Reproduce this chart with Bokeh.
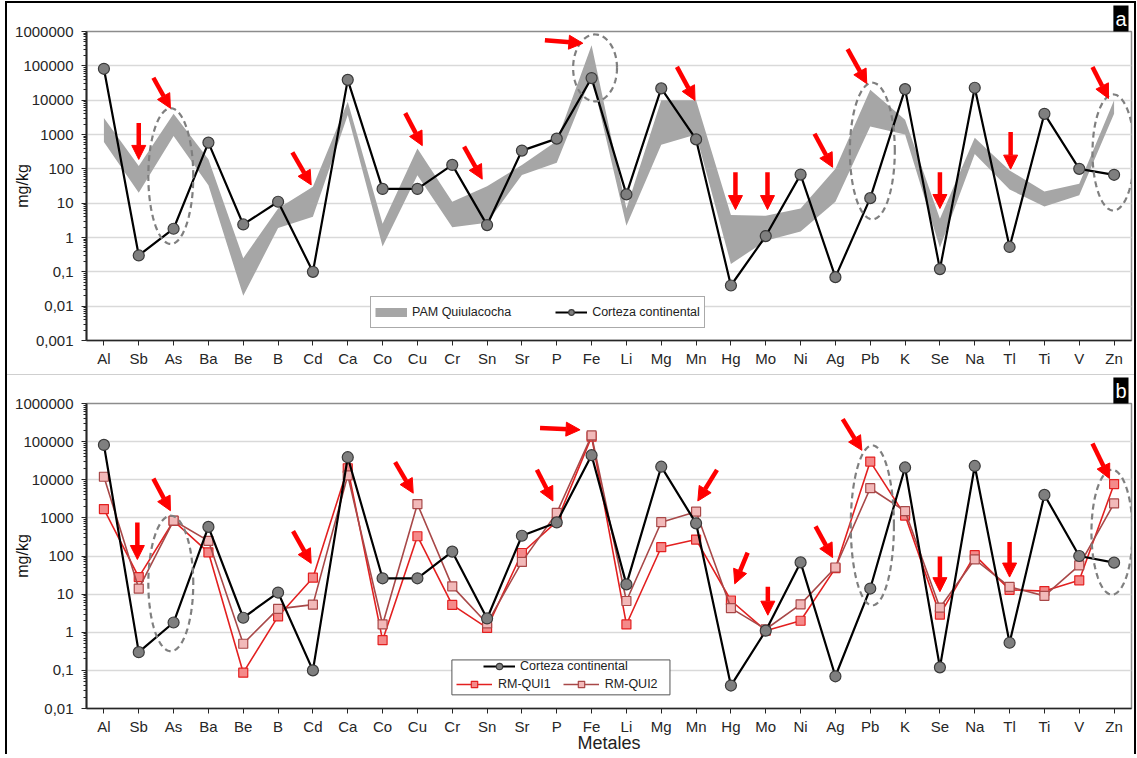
import numpy as np
from bokeh.plotting import figure
from bokeh.models import (Range1d, FixedTicker, Arrow, NormalHead, Legend,
                          LegendItem, Title)
from bokeh.layouts import column
from bokeh.embed import file_html
from bokeh.resources import INLINE

# ---------------- data ----------------
metals = ["Al", "Sb", "As", "Ba", "Be", "B", "Cd", "Ca", "Co", "Cu", "Cr", "Sn",
          "Sr", "P", "Fe", "Li", "Mg", "Mn", "Hg", "Mo", "Ni", "Ag", "Pb", "K",
          "Se", "Na", "Tl", "Ti", "V", "Zn"]

corteza = [82000, 0.3, 1.8, 580, 2.4, 11, 0.1, 39000, 26, 26, 130, 2.3, 340,
           760, 44000, 18, 22000, 720, 0.04, 1.1, 68, 0.07, 14, 21000, 0.12,
           23000, 0.53, 4000, 100, 67]

pam_min = [600, 20, 900, 33, 0.02, 1.9, 4, 3700, 0.55, 65, 2, 2.7, 66, 150,
           50000, 2.2, 500, 1000, 0.17, 0.8, 1.5, 11, 1700, 1000, 0.5, 270, 25,
           8, 17, 4000]
pam_max = [3000, 120, 4000, 190, 0.25, 7, 30, 9000, 2.5, 390, 11, 31, 129, 650,
           400000, 7, 10000, 10000, 4.5, 4.3, 7, 100, 20000, 2700, 3.5, 800, 90,
           22, 37, 10000]

rm_qui1 = [1700, 28, 830, 125, 0.087, 2.6, 27, 20000, 0.62, 330, 5.2, 1.3, 120,
           800, 135000, 1.6, 170, 270, 6.8, 1.1, 2.0, 48, 30000, 1150, 2.9, 105,
           13, 12, 23, 7700]
rm_qui2 = [12000, 14, 850, 250, 0.5, 4.1, 5.3, 13000, 1.6, 2300, 16, 1.7, 70,
           1350, 145000, 6.6, 770, 1450, 4.3, 1.2, 5.4, 50, 6000, 1500, 4.4, 82,
           15.5, 9, 57, 2400]

y_ticks_a = [0.001, 0.01, 0.1, 1.0, 10.0, 100.0, 1000.0, 10000.0, 100000.0, 1000000.0]
y_labels_a = ["0,001", "0,01", "0,1", "1", "10", "100", "1000", "10000", "100000", "1000000"]
y_ticks_b = y_ticks_a[1:]
y_labels_b = y_labels_a[1:]

# annotations: (category, dx_start, value_start, dx_end, value_end)
arrows_a = [("Sb", 0.0, 2160, 0.0, 188), ("As", -0.58, 45000, -0.09, 5800),
            ("Cd", -0.59, 300, -0.05, 34), ("Cu", -0.35, 4190, 0.14, 474),
            ("Sn", -0.66, 445, -0.14, 50), ("Fe", -1.34, 552000, -0.25, 453000),
            ("Mn", -0.55, 93000, -0.03, 9860), ("Hg", 0.13, 80, 0.13, 6.5),
            ("Mo", 0.05, 80, 0.05, 6.5), ("Ag", -0.6, 1050, -0.08, 111),
            ("Pb", -0.65, 305000, -0.1, 30300), ("Se", 0.0, 80, 0.0, 7),
            ("Tl", 0.03, 1190, 0.03, 98), ("Zn", -0.62, 93000, -0.16, 11200)]
arrows_b = [("Sb", -0.04, 760, -0.04, 81), ("As", -0.58, 10700, -0.09, 1540),
            ("Cd", -0.57, 447, -0.05, 64), ("Cu", -0.64, 29200, -0.12, 4440),
            ("P", -0.57, 18200, -0.11, 2770), ("Fe", -1.48, 229000, -0.33, 204000),
            ("Mn", 0.6, 18200, 0.05, 2770), ("Hg", 0.48, 122, 0.11, 18.6),
            ("Mo", 0.06, 15.6, 0.06, 2.8), ("Ag", -0.57, 600, -0.08, 91),
            ("Pb", -0.79, 390000, -0.24, 59200), ("Se", 0.0, 97, 0.0, 11.6),
            ("Tl", 0.0, 233, 0.0, 28), ("Zn", -0.62, 89000, -0.13, 10700)]

# dashed ellipses: (category, dx, log10 centre, half-width, half-height in decades)
ellipses_a = [("As", -0.08, 1.788, 0.645, 1.977), ("Fe", 0.1, 4.94, 0.63, 0.974),
              ("Pb", 0.06, 2.519, 0.645, 1.99), ("Zn", -0.02, 2.476, 0.6, 1.69)]
ellipses_b = [("As", -0.08, 1.28, 0.645, 1.777), ("Pb", 0.06, 2.803, 0.62, 2.097),
              ("Zn", -0.06, 2.624, 0.59, 1.637)]

FONT = "Liberation Sans"
RED = "#ff0000"
W = 1127
x = list(range(len(metals)))


def make_fig(height, y_lo, ticks, labels, top, bottom):
    p = figure(width=W, height=height, x_range=Range1d(-0.5, len(metals) - 0.5),
               y_range=Range1d(y_lo, 1e6), y_axis_type="log", title=None,
               output_backend="svg", toolbar_location=None,
               min_border_left=79, min_border_right=3,
               min_border_top=top, min_border_bottom=bottom)
    p.outline_line_color = "#8c8c8c"
    p.outline_line_width = 1.5
    p.xgrid.visible = False
    p.ygrid.grid_line_color = "#d9d9d9"
    p.ygrid.grid_line_width = 1.5

    xa = p.xaxis[0]
    xa.ticker = FixedTicker(ticks=x)
    xa.major_label_overrides = {i: m for i, m in enumerate(metals)}
    xa.minor_tick_line_color = None
    xa.major_tick_in = 0
    xa.major_tick_out = 5
    xa.major_label_standoff = 4
    xa.axis_line_color = "#262626"
    xa.axis_line_width = 1.5
    xa.major_tick_line_color = "#262626"
    xa.major_label_text_font = FONT
    xa.major_label_text_font_size = "15px"
    xa.major_label_text_color = "#262626"

    ya = p.yaxis[0]
    minor = [m * 10.0 ** k for k in range(-3, 6) for m in range(2, 10)]
    ya.ticker = FixedTicker(ticks=ticks, minor_ticks=minor)
    ya.major_label_overrides = dict(zip(ticks, labels))
    ya.major_tick_in = 0
    ya.major_tick_out = 5
    ya.minor_tick_in = 0
    ya.minor_tick_out = 3
    ya.major_label_standoff = 8
    ya.axis_line_color = "#262626"
    ya.axis_line_width = 2
    ya.major_tick_line_color = "#262626"
    ya.minor_tick_line_color = "#262626"
    ya.major_label_text_font = FONT
    ya.major_label_text_font_size = "15px"
    ya.major_label_text_color = "#262626"
    ya.axis_label = "mg/kg"
    ya.axis_label_text_font = FONT
    ya.axis_label_text_font_size = "16px"
    ya.axis_label_text_font_style = "normal"
    ya.axis_label_text_color = "#111111"
    ya.axis_label_standoff = -19
    return p


def add_arrows(p, arrows):
    for cat, dx0, v0, dx1, v1 in arrows:
        i = metals.index(cat)
        p.add_layout(Arrow(end=NormalHead(size=14, fill_color=RED, line_color=RED,
                                          line_width=1),
                           x_start=i + dx0, y_start=v0, x_end=i + dx1, y_end=v1,
                           line_color=RED, line_width=4.5))


def add_ellipses(p, ellipses):
    t = np.linspace(0, 2 * np.pi, 120)
    for cat, dx, lc, a, b in ellipses:
        cx = metals.index(cat) + dx
        p.line(cx + a * np.cos(t), 10 ** (lc + b * np.sin(t)),
               line_color="#7f7f7f", line_width=2.2, line_dash="6 4")


def panel_label(p, text, size):
    p.add_layout(Title(text=text, align="right", text_font=FONT,
                       text_font_size=size, text_font_style="normal",
                       text_color="white", background_fill_color="black",
                       standoff=0, offset=3, padding=2), "above")


# ---------------- panel a ----------------
pa = make_fig(371, 0.001, y_ticks_a, y_labels_a, 8, 34)
pa.varea(x=x, y1=pam_min, y2=pam_max, fill_color="#a6a6a6")
# legend-only swatch (lies outside the visible x range)
pam_swatch = pa.line(x=[-3, -2], y=[1, 1], line_color="#a6a6a6", line_width=9)
ca_line = pa.line(x, corteza, line_color="black", line_width=2.2)
ca_pts = pa.scatter(x, corteza, marker="circle", size=11, fill_color="#7f7f7f",
                    line_color="#3a3a3a", line_width=1.2)
add_ellipses(pa, ellipses_a)
add_arrows(pa, arrows_a)

leg_a = Legend(items=[LegendItem(label="PAM Quiulacocha", renderers=[pam_swatch]),
                      LegendItem(label="Corteza continental", renderers=[ca_line, ca_pts])],
               location=(284, 12), orientation="horizontal", padding=4, spacing=44,
               glyph_width=32, glyph_height=14, label_height=22, label_standoff=5,
               margin=0, border_line_color="#555555", border_line_width=1,
               background_fill_color="white", background_fill_alpha=1,
               label_text_font=FONT, label_text_font_size="12.5px",
               label_text_color="#222222")
pa.add_layout(leg_a)
panel_label(pa, "a", "20px")

# ---------------- panel b ----------------
pb = make_fig(380, 0.01, y_ticks_b, y_labels_b, 8, 42)
q1_line = pb.line(x, rm_qui1, line_color="#e32020", line_width=1.6)
q1_pts = pb.scatter(x, rm_qui1, marker="square", size=9, fill_color="#f48a8a",
                    line_color="#e32020", line_width=1.2)
q2_line = pb.line(x, rm_qui2, line_color="#a84848", line_width=1.6)
q2_pts = pb.scatter(x, rm_qui2, marker="square", size=9, fill_color="#f2b9b9",
                    line_color="#a84848", line_width=1.2)
cb_line = pb.line(x, corteza, line_color="black", line_width=2.2)
cb_pts = pb.scatter(x, corteza, marker="circle", size=11, fill_color="#7f7f7f",
                    line_color="#3a3a3a", line_width=1.2)
add_ellipses(pb, ellipses_b)
add_arrows(pb, arrows_b)
# white legend frame (in data space so it sits in the plot like the original)
pb.quad(left=[9.99], right=[16.25], bottom=[0.0228], top=[0.188],
        fill_color="white", line_color="#555555", line_width=1)

xb = pb.xaxis[0]
xb.axis_label = "Metales"
xb.axis_label_text_font = FONT
xb.axis_label_text_font_size = "18px"
xb.axis_label_text_font_style = "normal"
xb.axis_label_text_color = "#222222"
xb.axis_label_standoff = -5

common = dict(padding=0, margin=0, border_line_color=None, background_fill_alpha=0,
              label_text_font=FONT, label_text_font_size="12.5px",
              label_text_color="#222222", label_height=16, glyph_height=16)
leg_b1 = Legend(items=[LegendItem(label="Corteza continental",
                                  renderers=[cb_line, cb_pts])],
                location=(397, 34), glyph_width=32, label_standoff=5, **common)
leg_b2 = Legend(items=[LegendItem(label="RM-QUI1", renderers=[q1_line, q1_pts]),
                       LegendItem(label="RM-QUI2", renderers=[q2_line, q2_pts])],
                location=(370, 16), orientation="horizontal", glyph_width=36,
                label_standoff=6, spacing=12, **common)
pb.add_layout(leg_b1)
pb.add_layout(leg_b2)
panel_label(pb, "b", "20px")
pb.styles = {"border-top": "1px solid #cfcfcf"}

layout = column(pa, pb, styles={"border": "2px solid black", "border-bottom": "none",
                                "margin-left": "5px", "margin-top": "1px"})
open("out.html", "w").write(file_html(layout, INLINE))
